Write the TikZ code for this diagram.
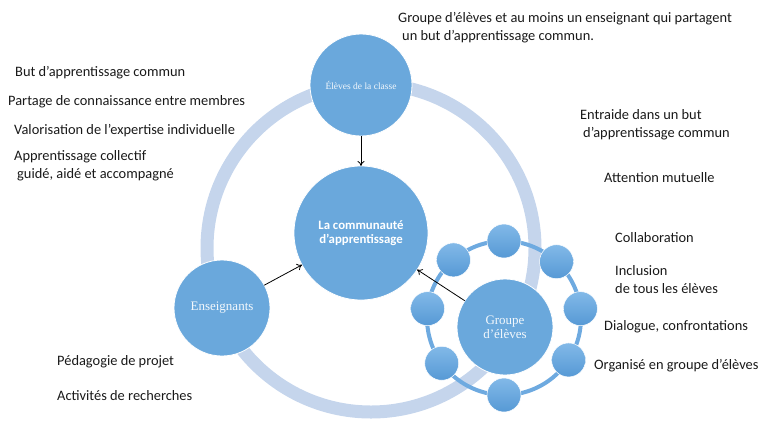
\documentclass[tikz,border=0pt]{standalone}
\usepackage{fontspec}
\setmainfont{Carlito}
\newfontfamily\circfont{Liberation Serif}
\usetikzlibrary{arrows.meta}
\definecolor{ringblue}{RGB}{197,213,236}
\definecolor{discblue}{RGB}{106,168,220}
\definecolor{linkblue}{RGB}{110,170,224}
\definecolor{beadtop}{RGB}{130,185,232}
\definecolor{beadbot}{RGB}{86,153,213}
\tikzset{
  disc/.style={circle, fill=discblue, draw=white, line width=0.8pt, inner sep=0pt, outer sep=0pt, text=white, align=center},
  bead/.style={circle, top color=beadtop, bottom color=beadbot, draw=white, line width=0.5pt, minimum size=34pt, inner sep=0pt},
  note/.style={anchor=west, inner sep=0pt, align=left, text=black!90, font=\fontsize{14.4}{18}\selectfont},
  link/.style={-{To[length=5pt,width=7pt]}, line width=0.8pt, black},
}

\begin{document}
\begin{tikzpicture}[x=1pt, y=-1pt]
  \useasboundingbox (0,0) rectangle (759,421);

  % big ring behind everything
  \draw[ringblue, line width=13pt] (371,248) circle (164);

  % main discs
  \node[disc, minimum size=134pt, font=\bfseries\fontsize{12.8}{14}\selectfont] (commu) at (361,233) {La communauté\\d’apprentissage};
  \node[disc, minimum size=102pt, font=\circfont\fontsize{9.5}{11}\selectfont, text=white!92!discblue] (eleves) at (361,85) {Élèves de la classe};
  \node[disc, minimum size=96pt, font=\circfont\fontsize{13}{14}\selectfont, text=white!92!discblue] (ens) at (222,308) {Enseignants};

  % group of pupils
  \draw[linkblue, line width=4pt] (504,318) circle (77);
  \foreach \a [count=\i] in {90,47,7,-33,-90,-144,173,131}
    \node[bead] (bead\i) at ({504+77*cos(\a)},{318-77*sin(\a)}) {};
  \node[disc, minimum size=96pt, font=\circfont\fontsize{13}{14}\selectfont, text=white!92!discblue] (groupe) at (505,327) {Groupe\\d’élèves};

  % arrows
  \draw[link] (eleves) -- (commu);
  \draw[link] (ens) -- (commu);
  \draw[link] (groupe) -- (commu);

  % notes top
  \node[note] (definition) at (398,28) {Groupe d’élèves et au moins un enseignant qui partagent\\\hspace*{4pt}un but d’apprentissage commun.};

  % notes left
  \node[note] (butcommun) at (15,73) {But d’apprentissage commun};
  \node[note] (partage) at (8,102) {Partage de connaissance entre membres};
  \node[note] (valorisation) at (14,131) {Valorisation de l’expertise individuelle};
  \node[note] (collectif) at (14,166) {Apprentissage collectif\\\hspace*{3pt}guidé, aidé et accompagné};

  % notes right
  \node[note] (entraide) at (580,125) {Entraide dans un but\\\hspace*{3pt}d’apprentissage commun};
  \node[note] (attention) at (604,178) {Attention mutuelle};
  \node[note] (collab) at (615,238) {Collaboration};
  \node[note] (inclusion) at (615,280) {Inclusion\\de tous les élèves};
  \node[note] (dialogue) at (604,327) {Dialogue, confrontations};
  \node[note] (organise) at (594,366) {Organisé en groupe d’élèves};

  % notes bottom left
  \node[note] (pedagogie) at (57,362) {Pédagogie de projet};
  \node[note] (recherches) at (57,396) {Activités de recherches};
\end{tikzpicture}
\end{document}
